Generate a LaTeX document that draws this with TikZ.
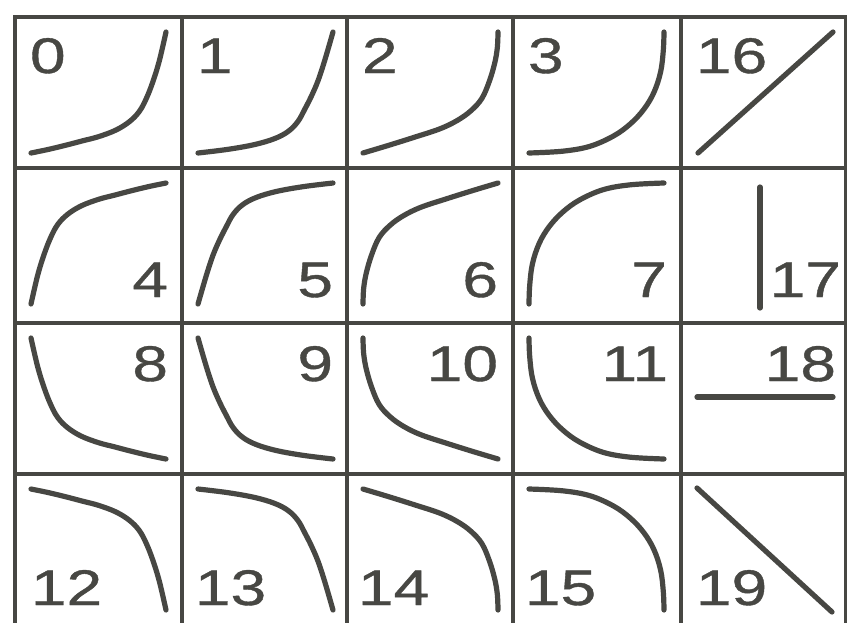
\documentclass[tikz,border=0pt]{standalone}
\usepackage{fontspec}
\setmainfont{Liberation Sans}[FakeStretch=1.28]
\newfontfamily\lblfont{Liberation Sans}[FakeStretch=1.28,FakeBold=0.8]
\definecolor{ink}{HTML}{474743}
\newcommand\shapeA{plot[smooth,tension=0.6] coordinates {(0,0) (0.13,0.03) (0.26,0.065) (0.38,0.10) (0.5,0.135) (0.63,0.19) (0.73,0.26) (0.80,0.34) (0.85,0.44) (0.90,0.58) (0.95,0.76) (1,1)}}
\newcommand\shapeB{plot[smooth,tension=0.6] coordinates {(0,0) (0.22,0.03) (0.42,0.07) (0.57,0.12) (0.67,0.18) (0.74,0.26) (0.79,0.36) (0.84,0.47) (0.89,0.60) (0.94,0.77) (1,1)}}
\newcommand\shapeC{plot[smooth,tension=0.6] coordinates {(0,0) (0.18,0.06) (0.38,0.13) (0.57,0.20) (0.70,0.27) (0.80,0.35) (0.88,0.45) (0.935,0.59) (0.975,0.74) (0.995,0.87) (1,1)}}
\newcommand\shapeD{plot[smooth,tension=0.6] coordinates {(0,0) (0.25,0.015) (0.45,0.055) (0.625,0.14) (0.75,0.24) (0.85,0.36) (0.925,0.50) (0.975,0.67) (0.995,0.85) (1,1)}}
% #1 = cell left, #2 = cell top, #3 = shape
\newcommand\rowzero[3]{\begin{scope}[shift={({#1+16},{#2+136})},xscale=135,yscale=-121]\draw[crv] #3;\end{scope}}
\newcommand\rowone[3]{\begin{scope}[shift={({#1+151},{#2+15})},xscale=-135,yscale=121]\draw[crv] #3;\end{scope}}
\newcommand\rowtwo[3]{\begin{scope}[shift={({#1+151},{#2+136})},xscale=-135,yscale=-121]\draw[crv] #3;\end{scope}}
\newcommand\rowthree[3]{\begin{scope}[shift={({#1+16},{#2+15})},xscale=135,yscale=121]\draw[crv] #3;\end{scope}}
\begin{document}
\begin{tikzpicture}[x=1pt,y=-1pt,
  crv/.style={draw=ink,line width=5.2pt,line cap=round,line join=round},
  grid/.style={draw=ink,line width=3.8pt},
  lblw/.style={anchor=base west,inner sep=0pt,outer sep=0pt,text=ink,font=\lblfont\fontsize{50}{50}\selectfont},
  lble/.style={anchor=base east,inner sep=0pt,outer sep=0pt,text=ink,font=\lblfont\fontsize{50}{50}\selectfont}]
\useasboundingbox (0,0) rectangle (847,622);
\fill[white] (0,0) rectangle (847,622);
\begin{scope}
\clip (0,0) rectangle (847,622);
% grid
\draw[grid] (15,17) rectangle (846,626);
\foreach \gx in {182,347,513,681} \draw[grid] (\gx,17) -- (\gx,626);
\foreach \gy in {168,323,474} \draw[grid] (15,\gy) -- (846,\gy);
\end{scope}
% row 0
\rowzero{15}{17}{\shapeA}
\rowzero{182}{17}{\shapeB}
\rowzero{347}{17}{\shapeC}
\rowzero{513}{17}{\shapeD}
% row 1
\rowone{15}{168}{\shapeA}
\rowone{182}{168}{\shapeB}
\rowone{347}{168}{\shapeC}
\rowone{513}{168}{\shapeD}
% row 2
\rowtwo{15}{323}{\shapeA}
\rowtwo{182}{323}{\shapeB}
\rowtwo{347}{323}{\shapeC}
\rowtwo{513}{323}{\shapeD}
% row 3
\rowthree{15}{474}{\shapeA}
\rowthree{182}{474}{\shapeB}
\rowthree{347}{474}{\shapeC}
\rowthree{513}{474}{\shapeD}
% column 4 straight lines
\coordinate (s16a) at (698,153); \coordinate (s16b) at (833,32);
\coordinate (s17a) at (760,187); \coordinate (s17b) at (760,308);
\coordinate (s18a) at (697,397); \coordinate (s18b) at (833,397);
\coordinate (s19a) at (697,488); \coordinate (s19b) at (832,612);
\draw[crv] (s16a) -- (s16b);
\draw[crv] (s17a) -- (s17b);
\draw[crv] (s18a) -- (s18b);
\draw[crv] (s19a) -- (s19b);
% labels
\node[lblw] (l0) at (30,73) {0};
\node[lblw] (l1) at (197,73) {1};
\node[lblw] (l2) at (362,73) {2};
\node[lblw] (l3) at (528,73) {3};
\node[lblw] (l16) at (696,73) {16};
\node[lble] (l4) at (168,297) {4};
\node[lble] (l5) at (333,297) {5};
\node[lble] (l6) at (498,297) {6};
\node[lble] (l7) at (667,297) {7};
\node[lble] (l17) at (841,297) {17};
\node[lble] (l8) at (168,381) {8};
\node[lble] (l9) at (333,381) {9};
\node[lble] (l10) at (498,381) {10};
\node[lble] (l11) at (668,381) {11};
\node[lble] (l18) at (836,381) {18};
\node[lblw] (l12) at (31,605) {12};
\node[lblw] (l13) at (195,605) {13};
\node[lblw] (l14) at (358,605) {14};
\node[lblw] (l15) at (525,605) {15};
\node[lblw] (l19) at (696,605) {19};
\end{tikzpicture}
\end{document}
